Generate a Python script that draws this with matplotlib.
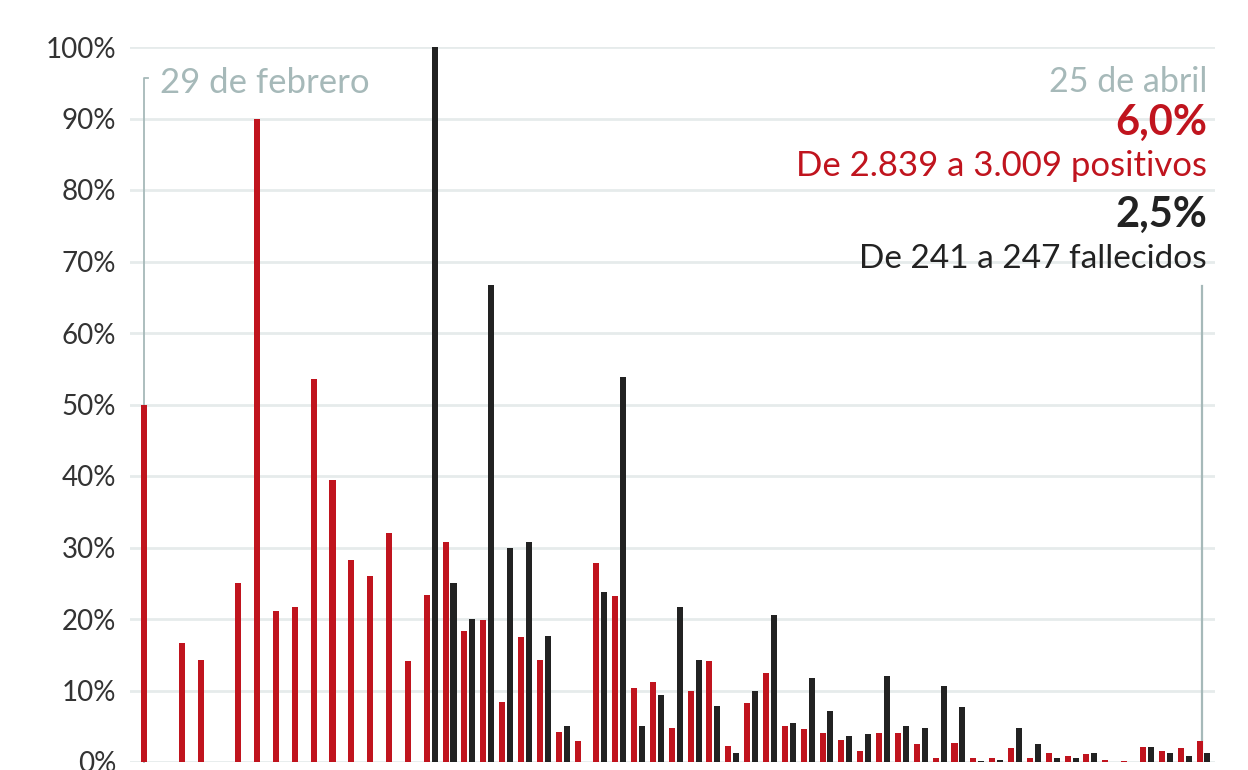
import numpy as np
import matplotlib.pyplot as plt

# Daily variation (%) from 29 Feb to 25 Apr
positivos = [50.0, 0, 16.7, 14.3, 0, 25.0, 90.0, 21.1, 21.7, 53.6,
             39.4, 28.3, 26.0, 32.0, 14.1, 23.3, 30.7, 18.3, 19.8, 8.4,
             17.5, 14.2, 4.2, 3.0, 27.9, 23.2, 10.4, 11.2, 4.7, 10.0,
             14.1, 2.2, 8.3, 12.4, 5.0, 4.6, 4.1, 3.1, 1.5, 4.1,
             4.0, 2.5, 0.6, 2.7, 0.5, 0.5, 1.9, 0.6, 1.3, 0.8,
             1.1, 0.3, 0.1, 2.1, 1.6, 1.9, 2.9]
fallecidos = [0, 0, 0, 0, 0, 0, 0, 0, 0, 0,
              0, 0, 0, 0, 0, 100.0, 25.0, 20.0, 66.7, 30.0,
              30.8, 17.6, 5.0, 0, 23.8, 53.9, 5.0, 9.4, 21.7, 14.2,
              7.8, 1.3, 9.9, 20.5, 5.5, 11.8, 7.2, 3.6, 3.9, 12.0,
              5.0, 4.8, 10.6, 7.7, 0.2, 0.3, 4.8, 2.5, 0.6, 0.6,
              1.3, 0, 0, 2.1, 1.2, 0.8, 1.3]
yticks = [0, 10, 20, 30, 40, 50, 60, 70, 80, 90, 100]

RED = '#c0141e'
BLACK = '#222222'
GREY = '#a6b9b9'
GRID = '#e6ebeb'

plt.rcParams['font.family'] = ['Lato', 'DejaVu Sans']

fig = plt.figure(figsize=(12.48, 7.7), dpi=100)
ax = fig.add_axes([130 / 1248, 8 / 770, 1085 / 1248, 715 / 770])

x = np.arange(len(positivos))
ax.bar(x, positivos, width=0.32, color=RED, zorder=3)
ax.bar(x + 0.42, fallecidos, width=0.32, color=BLACK, zorder=3)

ax.set_xlim(-0.743, 56.82)
ax.set_ylim(0, 100)
ax.set_yticks(yticks)
ax.set_yticklabels([f'{v}%' for v in yticks], fontsize=20, color='#333333')
ax.set_xticks([])
ax.tick_params(axis='y', length=0, pad=10)
ax.grid(axis='y', color=GRID, linewidth=2, zorder=0)
for s in ax.spines.values():
    s.set_visible(False)

# reference lines for first and last day
ax.plot([0, 0, 0.22], [0, 95.7, 95.7], color=GREY, lw=1.3, zorder=2,
        clip_on=False)
ax.plot([56.11, 56.11], [0, 66.6], color=GREY, lw=1.6, zorder=2)

ax.text(0.85, 93.5, '29 de febrero', fontsize=25, color=GREY,
        ha='left', va='baseline')

xr = 56.39
ax.text(xr, 93.75, '25 de abril', fontsize=24.5, color=GREY,
        ha='right', va='baseline')
ax.text(xr, 87.7, '6,0%', fontsize=30, color=RED,
        fontweight='bold', ha='right', va='baseline')
ax.text(xr, 81.9, 'De 2.839 a 3.009 positivos', fontsize=25, color=RED,
        ha='right', va='baseline')
ax.text(xr, 74.9, '2,5%', fontsize=30, color=BLACK,
        fontweight='bold', ha='right', va='baseline')
ax.text(xr, 69.05, 'De 241 a 247 fallecidos', fontsize=24, color=BLACK,
        ha='right', va='baseline')

fig.savefig('out.png', dpi=100)
